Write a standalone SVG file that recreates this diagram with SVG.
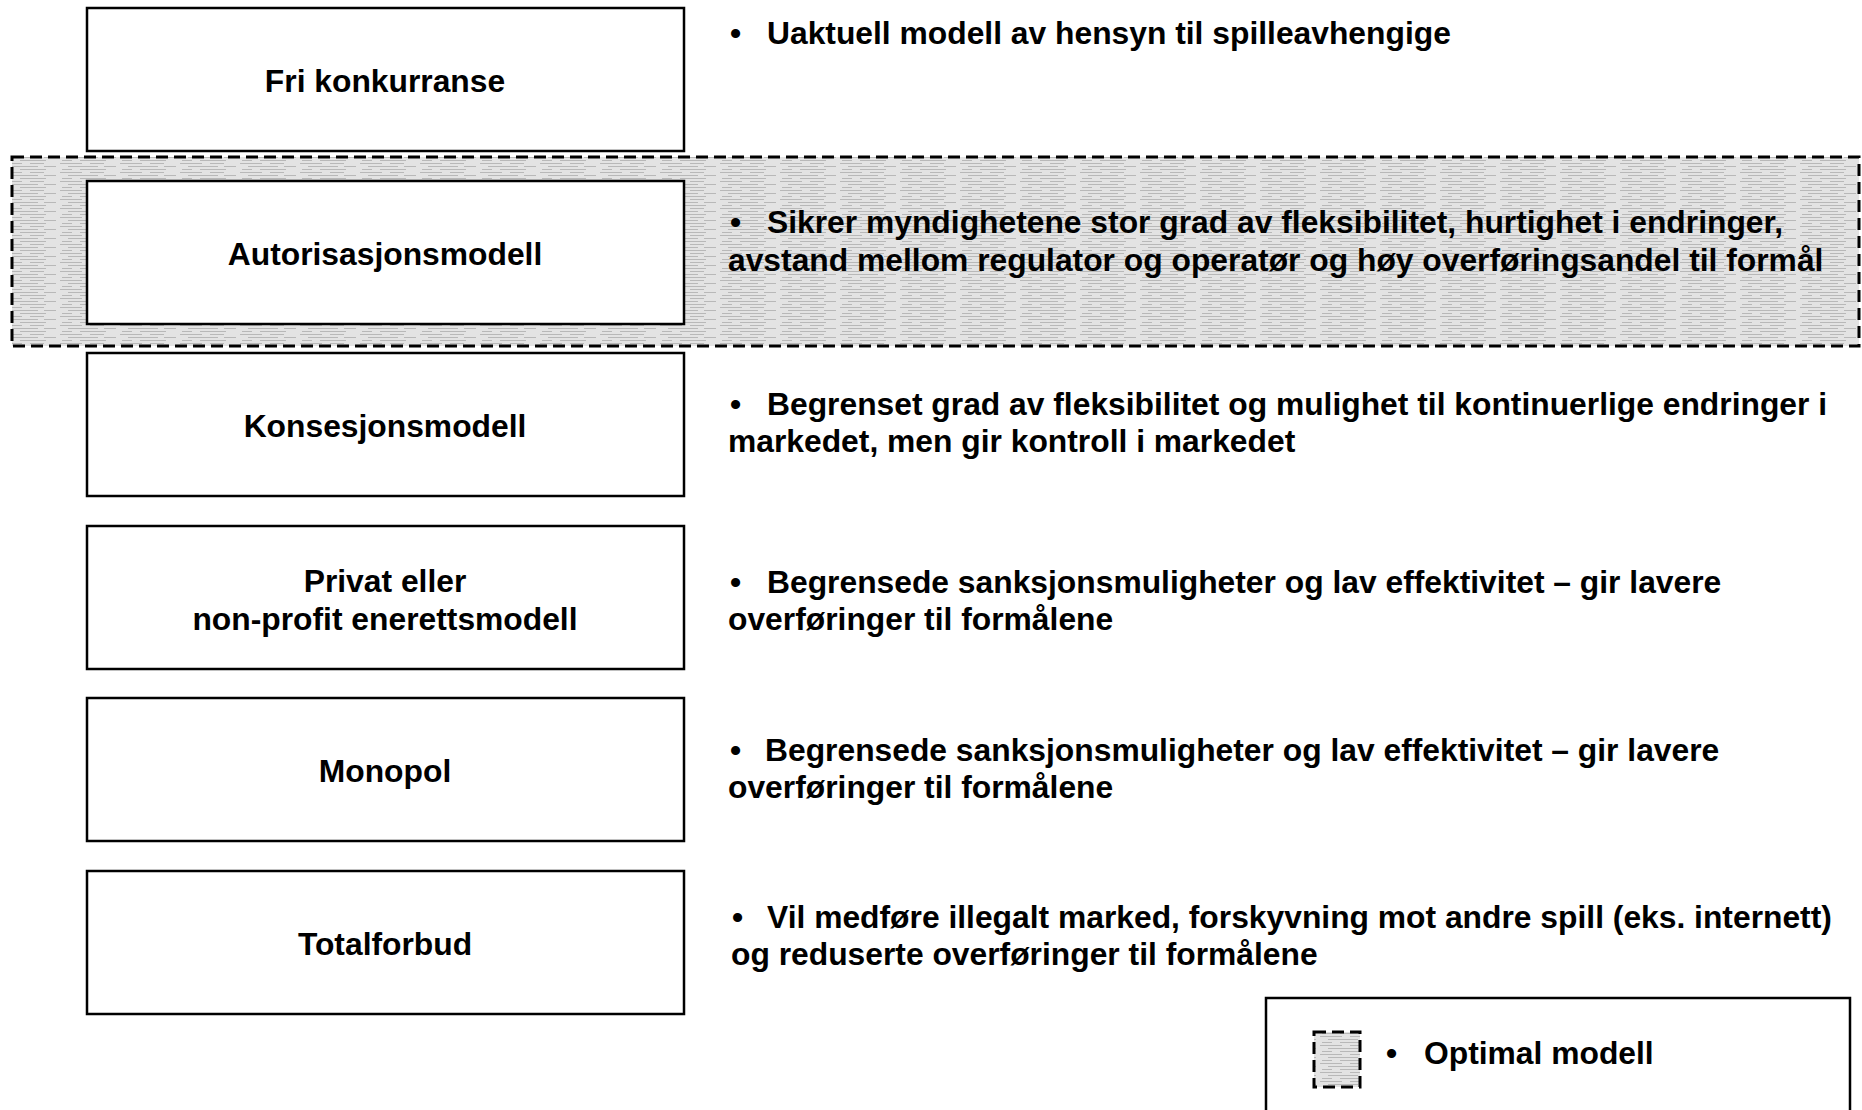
<svg xmlns="http://www.w3.org/2000/svg" width="1862" height="1110" viewBox="0 0 1862 1110">
<style>
.box{fill:#fff;stroke:#000;stroke-width:2.5}
.lbl{font-family:"Liberation Sans",Arial,sans-serif;font-weight:bold;font-size:31.8px;fill:#000}
.mid{text-anchor:middle}
.dash{stroke:#000;stroke-width:3;stroke-dasharray:12 6}
</style>
<defs>
<pattern id="tex" width="60" height="9" patternUnits="userSpaceOnUse">
<rect width="60" height="9" fill="#e3e3e3"/>
<path d="M0 1.5h22M30 1.5h14M8 4.5h30M44 4.5h12M2 7.5h10M20 7.5h26" stroke="#b8b8b8" stroke-width="1"/>
</pattern>
</defs>
<rect width="1862" height="1110" fill="#fff"/>
<g id="optimal-region">
<rect x="12" y="157" width="1847" height="189" fill="url(#tex)" class="dash"/>
</g>
<g id="connectors"></g>
<g id="node-fri">
<rect class="box" x="87" y="8" width="597" height="143"/>
<text class="lbl mid" x="385" y="92">Fri konkurranse</text>
</g>
<g id="node-autorisasjon">
<rect class="box" x="87" y="181" width="597" height="143"/>
<text class="lbl mid" x="385" y="265">Autorisasjonsmodell</text>
</g>
<g id="node-konsesjon">
<rect class="box" x="87" y="353" width="597" height="143"/>
<text class="lbl mid" x="385" y="437">Konsesjonsmodell</text>
</g>
<g id="node-privat">
<rect class="box" x="87" y="526" width="597" height="143"/>
<text class="lbl mid" x="385" y="592">Privat eller</text>
<text class="lbl mid" x="385" y="630">non-profit enerettsmodell</text>
</g>
<g id="node-monopol">
<rect class="box" x="87" y="698" width="597" height="143"/>
<text class="lbl mid" x="385" y="782">Monopol</text>
</g>
<g id="node-totalforbud">
<rect class="box" x="87" y="871" width="597" height="143"/>
<text class="lbl mid" x="385" y="955">Totalforbud</text>
</g>
<g id="desc-fri">
<text class="lbl" x="730" y="44">•</text>
<text class="lbl" x="767" y="44">Uaktuell modell av hensyn til spilleavhengige</text>
</g>
<g id="desc-autorisasjon">
<text class="lbl" x="730" y="233">•</text>
<text class="lbl" x="767" y="233">Sikrer myndighetene stor grad av fleksibilitet, hurtighet i endringer,</text>
<text class="lbl" x="728" y="271">avstand mellom regulator og operatør og høy overføringsandel til formål</text>
</g>
<g id="desc-konsesjon">
<text class="lbl" x="730" y="415">•</text>
<text class="lbl" x="767" y="415">Begrenset grad av fleksibilitet og mulighet til kontinuerlige endringer i</text>
<text class="lbl" x="728" y="452">markedet, men gir kontroll i markedet</text>
</g>
<g id="desc-privat">
<text class="lbl" x="730" y="593">•</text>
<text class="lbl" x="767" y="593">Begrensede sanksjonsmuligheter og lav effektivitet – gir lavere</text>
<text class="lbl" x="728" y="630">overføringer til formålene</text>
</g>
<g id="desc-monopol">
<text class="lbl" x="730" y="761">•</text>
<text class="lbl" x="765" y="761">Begrensede sanksjonsmuligheter og lav effektivitet – gir lavere</text>
<text class="lbl" x="728" y="798">overføringer til formålene</text>
</g>
<g id="desc-totalforbud">
<text class="lbl" x="732" y="928">•</text>
<text class="lbl" x="767" y="928">Vil medføre illegalt marked, forskyvning mot andre spill (eks. internett)</text>
<text class="lbl" x="731" y="965">og reduserte overføringer til formålene</text>
</g>
<g id="legend">
<path d="M1266 1115V998H1850V1115" fill="none" stroke="#000" stroke-width="2.5"/>
<rect x="1314" y="1032" width="46" height="55" fill="url(#tex)" class="dash" stroke-dasharray="9 5"/>
<text class="lbl" x="1386" y="1064">•</text>
<text class="lbl" x="1424" y="1064">Optimal modell</text>
</g>
</svg>
